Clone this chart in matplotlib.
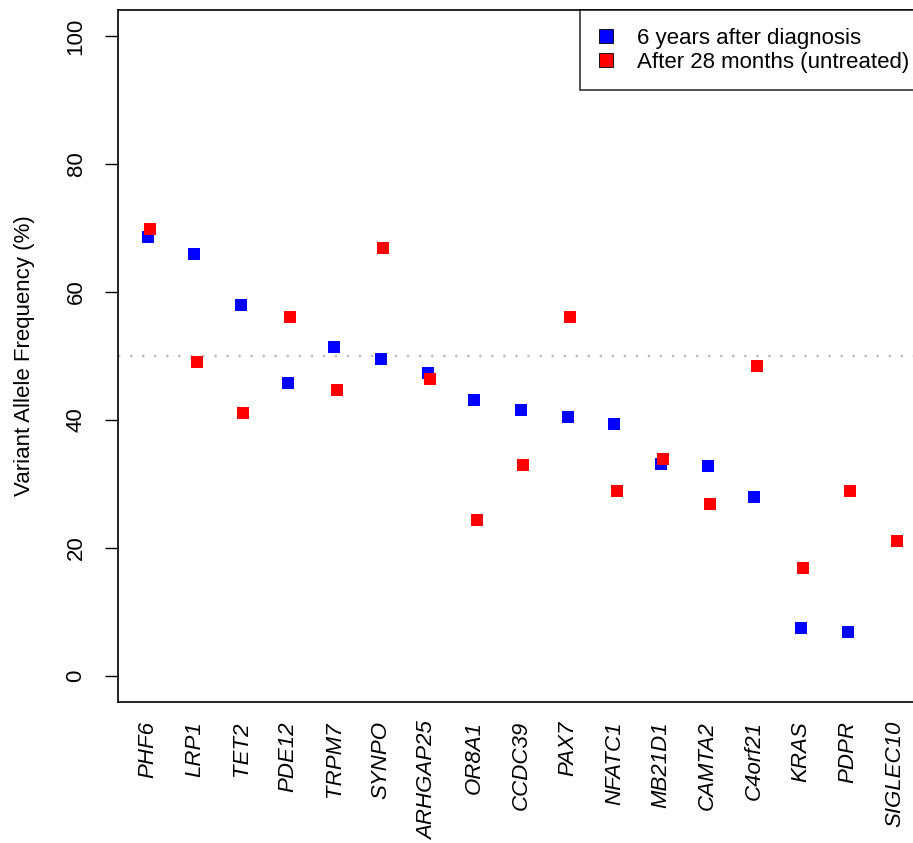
import matplotlib
matplotlib.use("Agg")
import matplotlib.pyplot as plt
from matplotlib.lines import Line2D

plt.rcParams['font.family'] = ['Liberation Sans', 'DejaVu Sans']

genes = ["PHF6", "LRP1", "TET2", "PDE12", "TRPM7", "SYNPO", "ARHGAP25", "OR8A1",
         "CCDC39", "PAX7", "NFATC1", "MB21D1", "CAMTA2", "C4orf21", "KRAS", "PDPR", "SIGLEC10"]
vaf_6y = [68.6, 65.9, 58.0, 45.8, 51.4, 49.5, 47.4, 43.1,
          41.6, 40.5, 39.3, 33.2, 32.8, 28.0, 7.45, 6.9, None]
vaf_28m = [69.9, 49.1, 41.1, 56.1, 44.7, 66.8, 46.4, 24.3,
           33.0, 56.1, 28.95, 33.95, 26.8, 48.5, 16.9, 28.95, 21.1]
series_labels = ["6 years after diagnosis", "After 28 months (untreated)"]
series_colors = ["#0000ff", "#ff0000"]
yticks = [0, 20, 40, 60, 80, 100]

W, H = 913, 843
fig = plt.figure(figsize=(W / 100, H / 100), dpi=100)
ax = fig.add_axes([117.7 / W, (H - 701.6) / H, 809 / W, 691.2 / H])

fs = 16
x = list(range(1, len(genes) + 1))
xb = [xi for xi, v in zip(x, vaf_6y) if v is not None]
yb = [v for v in vaf_6y if v is not None]
ax.plot(xb, yb, 's', color=series_colors[0], markersize=9.2, markeredgewidth=0, zorder=3)
ax.plot([xi + 0.05 for xi in x], vaf_28m, 's', color=series_colors[1], markersize=9.2,
        markeredgewidth=0, zorder=4)
ax.axhline(50, color='#bbbbbb', lw=1.7, linestyle=(0, (1, 4.1)), zorder=1)

ax.set_xlim(0.358, 17.692)
ax.set_ylim(-4, 104)
ax.set_yticks(yticks)
ax.set_yticklabels([str(t) for t in yticks], rotation=90, va='center', fontsize=fs)
ax.tick_params(axis='y', length=9.4, width=1, pad=13)
ax.set_xticks(x)
ax.set_xticklabels(genes, rotation=90, fontsize=fs, style='italic', va='top', ha='center')
ax.tick_params(axis='x', length=0, pad=14)
for s in ax.spines.values():
    s.set_linewidth(1.2)
ax.set_ylabel("Variant Allele Frequency (%)", fontsize=fs, labelpad=22)

handles = [Line2D([], [], marker='s', linestyle='none', markerfacecolor=c,
                  markeredgecolor='black', markeredgewidth=0.6, markersize=10)
           for c in series_colors]
leg = ax.legend(handles, series_labels, loc='upper right', fontsize=16, frameon=True,
                fancybox=False, edgecolor='black', borderaxespad=0, handletextpad=1.0,
                handlelength=0.8, borderpad=0.78, labelspacing=0.14)
leg.get_frame().set_linewidth(1.2)

fig.savefig("out.png", dpi=100)
